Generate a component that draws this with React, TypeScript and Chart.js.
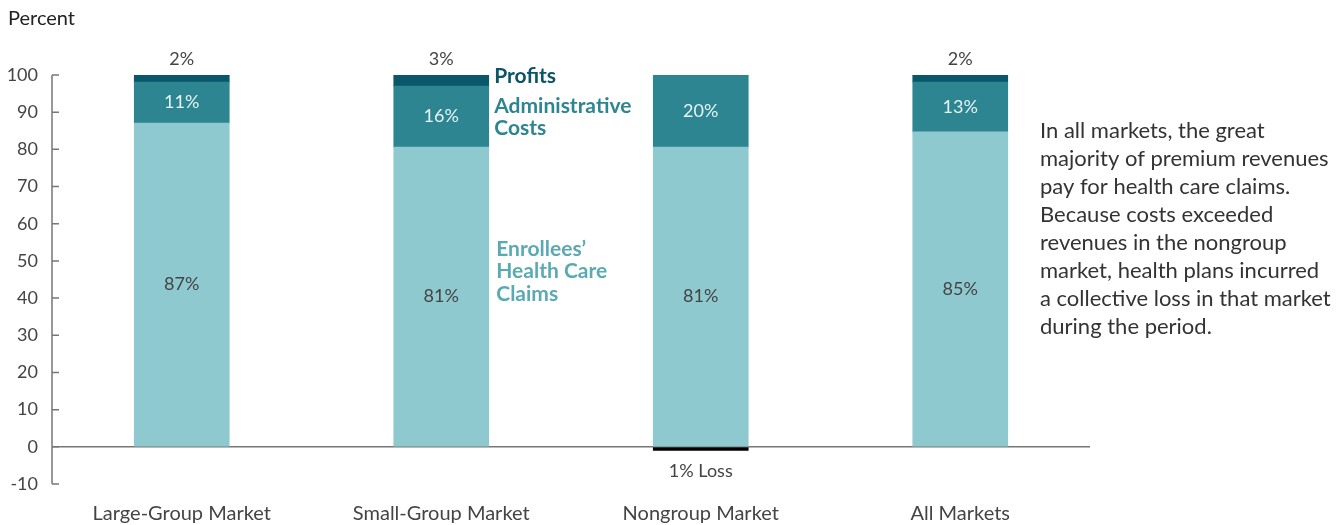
import React, { useEffect, useRef } from "react";
import { Chart, registerables } from "chart.js";

Chart.register(...registerables);

const categories = ["Large-Group Market", "Small-Group Market", "Nongroup Market", "All Markets"];
const claimsValues = [87.1, 80.6, 80.6, 84.7];
const adminValues = [11.0, 16.4, 19.4, 13.4];
const profitValues = [1.9, 3.0, 0, 1.9];
const lossValues = [0, 0, -1, 0];
const claimsLabels = ["87%", "81%", "81%", "85%"];
const adminLabels = ["11%", "16%", "20%", "13%"];
const profitLabels = ["2%", "3%", "", "2%"];
const lossLabels = ["", "", "1% Loss", ""];
const yTicks = [-10, 0, 10, 20, 30, 40, 50, 60, 70, 80, 90, 100];
const noteLines = [
  "In all markets, the great",
  "majority of premium revenues",
  "pay for health care claims.",
  "Because costs exceeded",
  "revenues in the nongroup",
  "market, health plans incurred",
  "a collective loss in that market",
  "during the period.",
];

const FONT = "Lato, 'Open Sans', sans-serif";
const C_CLAIMS = "#8fc9d0";
const C_ADMIN = "#2e8592";
const C_PROFIT = "#0a566a";

const overlay = {
  id: "overlay",
  afterDatasetsDraw(chart: any) {
    const ctx = chart.ctx;
    const y = chart.scales.y;
    const area = chart.chartArea;
    ctx.save();
    ctx.strokeStyle = "#777";
    ctx.lineWidth = 1.5;
    ctx.beginPath();
    ctx.moveTo(area.left, y.getPixelForValue(100));
    ctx.lineTo(area.left, y.getPixelForValue(-10));
    yTicks.forEach((t) => {
      const py = y.getPixelForValue(t);
      ctx.moveTo(area.left, py);
      ctx.lineTo(area.left + 7, py);
    });
    ctx.stroke();

    const mClaims = chart.getDatasetMeta(0);
    const mAdmin = chart.getDatasetMeta(1);
    const mProfit = chart.getDatasetMeta(2);
    const mLoss = chart.getDatasetMeta(3);
    ctx.textAlign = "center";
    ctx.textBaseline = "middle";
    ctx.font = `18px ${FONT}`;
    categories.forEach((_, i) => {
      const c = mClaims.data[i];
      ctx.fillStyle = "#444";
      ctx.fillText(claimsLabels[i], c.x, (c.y + c.base) / 2);
      const a = mAdmin.data[i];
      ctx.fillStyle = "#e6f3f4";
      ctx.fillText(adminLabels[i], a.x, (a.y + a.base) / 2);
      const p = mProfit.data[i];
      ctx.fillStyle = "#444";
      if (profitLabels[i]) ctx.fillText(profitLabels[i], p.x, y.getPixelForValue(100) - 16);
      const l = mLoss.data[i];
      if (lossLabels[i]) ctx.fillText(lossLabels[i], l.x, y.getPixelForValue(0) + 24);
    });

    const bar = mAdmin.data[1];
    const lx = bar.x + 53;
    ctx.textAlign = "left";
    ctx.font = `bold 21px ${FONT}`;
    ctx.fillStyle = "#0b5567";
    ctx.fillText("Profits", lx, 76);
    ctx.fillStyle = "#2e8592";
    ctx.fillText("Administrative", lx, 106);
    ctx.fillText("Costs", lx, 128);
    ctx.fillStyle = "#5aaab3";
    ctx.fillText("Enrollees\u2019", lx + 2, 249);
    ctx.fillText("Health Care", lx + 2, 271);
    ctx.fillText("Claims", lx + 2, 294);

    ctx.font = `20px ${FONT}`;
    ctx.fillStyle = "#222";
    ctx.fillText("Percent", 8, 19);

    ctx.font = `22px ${FONT}`;
    ctx.fillStyle = "#333";
    noteLines.forEach((t, k) => ctx.fillText(t, 1040, 131 + k * 28));
    ctx.restore();
  },
};

export default function App() {
  const ref = useRef<HTMLCanvasElement>(null);
  useEffect(() => {
    if (!ref.current) return;
    const chart = new Chart(ref.current, {
      type: "bar",
      data: {
        labels: categories,
        datasets: [
          { label: "Claims", data: claimsValues, backgroundColor: C_CLAIMS, stack: "s" },
          { label: "Admin", data: adminValues, backgroundColor: C_ADMIN, stack: "s" },
          { label: "Profits", data: profitValues, backgroundColor: C_PROFIT, stack: "s" },
          { label: "Loss", data: lossValues, backgroundColor: "#000", stack: "s" },
        ],
      },
      options: {
        animation: false,
        responsive: true,
        maintainAspectRatio: false,
        layout: { padding: { top: 75, bottom: 0, left: 0, right: 248 } },
        datasets: { bar: { barThickness: 95 } },
        plugins: { legend: { display: false }, tooltip: { enabled: false } },
        scales: {
          x: {
            stacked: true,
            grid: { display: false },
            border: { display: false },
            ticks: { color: "#444", font: { family: FONT, size: 20 }, padding: 10 },
            afterFit: (s: any) => { s.height = 41; },
          },
          y: {
            stacked: true,
            min: -10,
            max: 100,
            ticks: { stepSize: 10, color: "#444", font: { family: FONT, size: 18 }, padding: 14 },
            grid: {
              drawTicks: false,
              lineWidth: 1.5,
              color: (c: any) => (c.tick && c.tick.value === 0 ? "#777" : "rgba(0,0,0,0)"),
            },
            border: { display: false },
            afterFit: (s: any) => { s.width = 52; },
          },
        },
      },
      plugins: [overlay],
    });
    return () => chart.destroy();
  }, []);
  return (
    <div style={{ position: "absolute", left: 0, top: 0, width: 1338, height: 525 }}>
      <canvas ref={ref} />
    </div>
  );
}
